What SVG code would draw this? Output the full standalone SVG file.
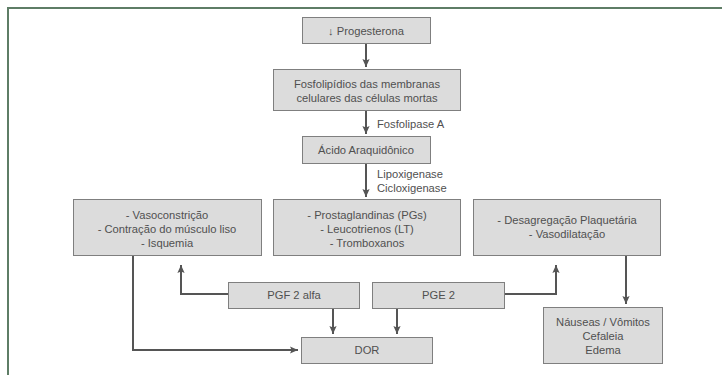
<svg xmlns="http://www.w3.org/2000/svg" width="722" height="375" viewBox="0 0 722 375">
<style>
.box{fill:#dcdcdc;stroke:#7f7f7f;stroke-width:1}
.t{font-family:"Liberation Sans",Arial,sans-serif;font-size:11.2px;fill:#505050;text-anchor:middle}
.l{font-family:"Liberation Sans",Arial,sans-serif;font-size:11.2px;fill:#505050}
.c{fill:none;stroke:#555;stroke-width:2}
</style>
<defs>
<marker id="ah" viewBox="0 0 10 10" refX="10" refY="5" markerWidth="8" markerHeight="8" markerUnits="userSpaceOnUse" orient="auto">
<path d="M0,0.5 L10,5 L0,9.5 L2,5 z" fill="#555"/>
</marker>
</defs>
<rect width="722" height="375" fill="#fff"/>
<path d="M8,375 V8 H722" fill="none" stroke="#5e7d66" stroke-width="2"/>

<g id="connectors">
<path class="c" d="M366,43 V67" marker-end="url(#ah)"/>
<path class="c" d="M366,110 V134" marker-end="url(#ah)"/>
<path class="c" d="M366,163 V197" marker-end="url(#ah)"/>
<path class="c" d="M133,255 V350 H298" marker-end="url(#ah)"/>
<path class="c" d="M228,294 H181 V265" marker-end="url(#ah)"/>
<path class="c" d="M333,308 V334" marker-end="url(#ah)"/>
<path class="c" d="M397,308 V334" marker-end="url(#ah)"/>
<path class="c" d="M504,294 H556 V265" marker-end="url(#ah)"/>
<path class="c" d="M626,255 V304" marker-end="url(#ah)"/>
<text class="l" x="377" y="128">Fosfolipase A</text>
<text class="l" x="377" y="178">Lipoxigenase</text>
<text class="l" x="377" y="192">Cicloxigenase</text>
</g>

<g id="progesterona">
<rect class="box" x="302.5" y="17.5" width="128" height="26"/>
<text class="t" x="366" y="34.5">↓ Progesterona</text>
</g>
<g id="fosfolipidios">
<rect class="box" x="273.5" y="69.5" width="187" height="41"/>
<text class="t" x="367" y="88">Fosfolipídios das membranas</text>
<text class="t" x="367" y="102">celulares das células mortas</text>
</g>
<g id="acido">
<rect class="box" x="302.5" y="136.5" width="128" height="27"/>
<text class="t" x="366" y="154">Ácido Araquidônico</text>
</g>
<g id="efeitos-pgf">
<rect class="box" x="73.5" y="199.5" width="188" height="56"/>
<text class="t" x="167" y="218.5">- Vasoconstrição</text>
<text class="t" x="167" y="233">- Contração do músculo liso</text>
<text class="t" x="167" y="247">- Isquemia</text>
</g>
<g id="mediadores">
<rect class="box" x="273.5" y="199.5" width="187" height="56"/>
<text class="t" x="367" y="218.5">- Prostaglandinas (PGs)</text>
<text class="t" x="367" y="233">- Leucotrienos (LT)</text>
<text class="t" x="367" y="247">- Tromboxanos</text>
</g>
<g id="efeitos-pge">
<rect class="box" x="473.5" y="199.5" width="187" height="56"/>
<text class="t" x="567" y="224">- Desagregação Plaquetária</text>
<text class="t" x="567" y="238">- Vasodilatação</text>
</g>
<g id="pgf2alfa">
<rect class="box" x="228.5" y="282.5" width="131" height="26"/>
<text class="t" x="294" y="299">PGF 2 alfa</text>
</g>
<g id="pge2">
<rect class="box" x="372.5" y="282.5" width="132" height="26"/>
<text class="t" x="438.5" y="299">PGE 2</text>
</g>
<g id="dor">
<rect class="box" x="301.5" y="337.5" width="131" height="26"/>
<text class="t" x="367" y="354">DOR</text>
</g>
<g id="sintomas">
<rect class="box" x="543.5" y="307.5" width="119" height="56"/>
<text class="t" x="603" y="326">Náuseas / Vômitos</text>
<text class="t" x="603" y="340">Cefaleia</text>
<text class="t" x="603" y="354">Edema</text>
</g>
</svg>
